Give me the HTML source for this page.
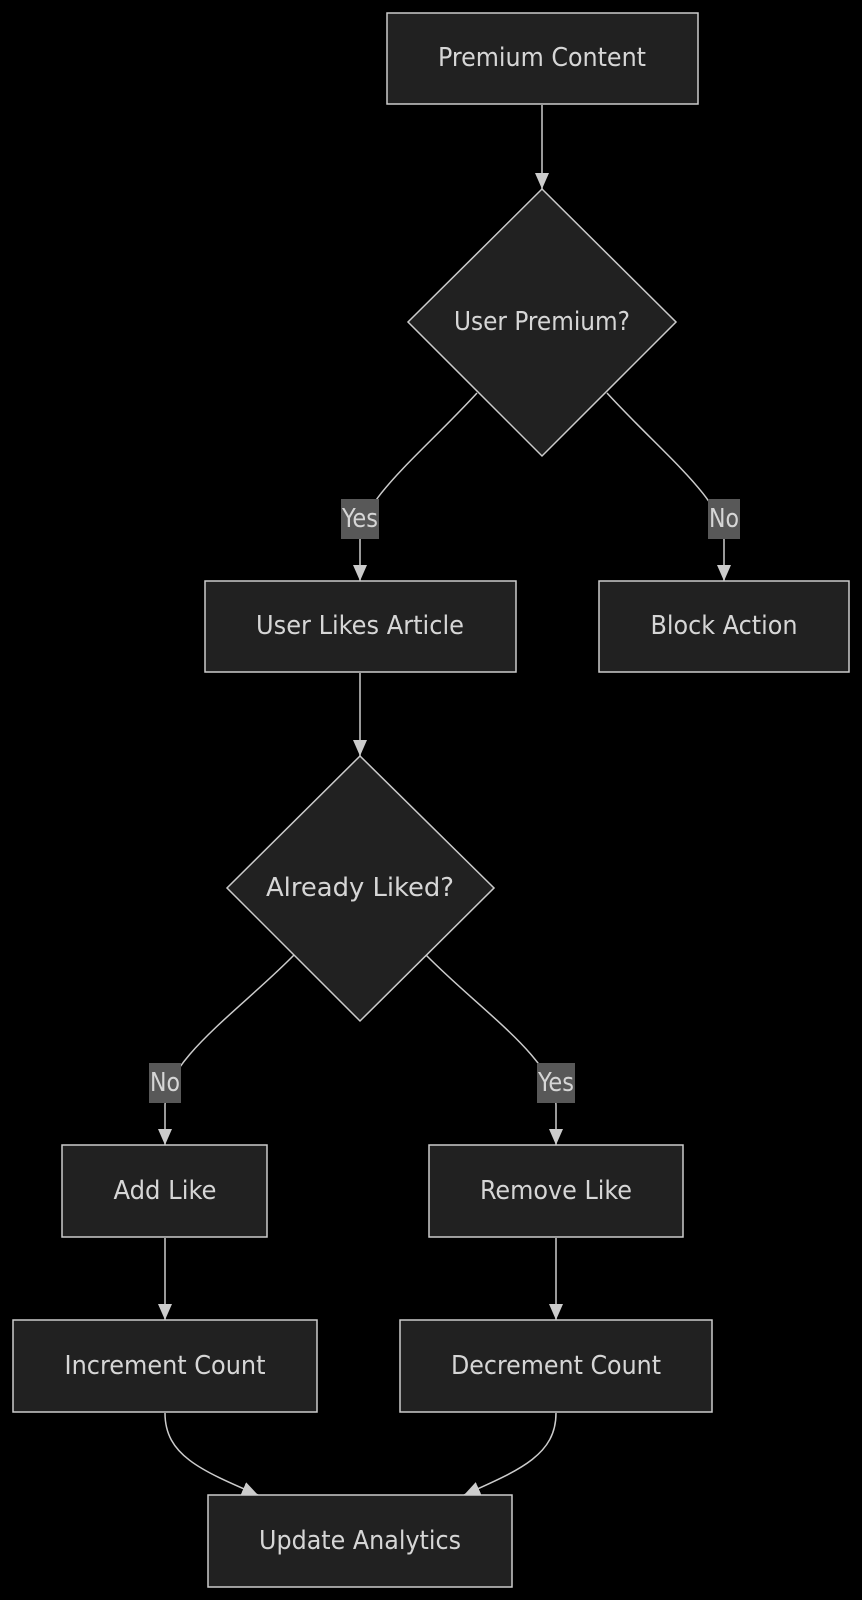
<!DOCTYPE html>
<html><head><meta charset="utf-8"><style>
html,body{margin:0;padding:0;background:#000;width:862px;height:1600px;overflow:hidden}
svg{display:block}
text{font-family:"DejaVu Sans Condensed","DejaVu Sans","Liberation Sans",sans-serif;fill:#d6d6d6;font-size:26px}
</style></head><body>
<svg width="862" height="1600" viewBox="0 0 862 1600">
<defs>
<marker id="b" viewBox="0 0 16 14" refX="16" refY="7" markerWidth="16" markerHeight="14" markerUnits="userSpaceOnUse" orient="auto"><path d="M0,0L16,7L0,14z" fill="#ccc"/></marker></defs>
<g fill="none" stroke="#ccc" stroke-width="1.5">
<path d="M542,105 L542,189" marker-end="url(#b)"/>
<path d="M477,393 C420,455 360,500 360,540 L360,581" marker-end="url(#b)"/>
<path d="M607,393 C664,455 724,500 724,540 L724,581" marker-end="url(#b)"/>
<path d="M360,673 L360,756" marker-end="url(#b)"/>
<path d="M294,955 C240,1010 165,1060 165,1105 L165,1145" marker-end="url(#b)"/>
<path d="M426,955 C480,1010 556,1060 556,1105 L556,1145" marker-end="url(#b)"/>
<path d="M165,1238 L165,1320" marker-end="url(#b)"/>
<path d="M556,1238 L556,1320" marker-end="url(#b)"/>
<path d="M165,1413 C165,1455 200,1470 258,1495" marker-end="url(#b)"/>
<path d="M556,1413 C556,1455 520,1470 464,1495" marker-end="url(#b)"/>
</g>
<g fill="#212121" stroke="#ccc" stroke-width="1.5">
<rect x="387" y="13" width="311" height="91"/>
<path d="M542,189 L676,322 L542,456 L408,322 Z"/>
<rect x="205" y="581" width="311" height="91"/>
<rect x="599" y="581" width="250" height="91"/>
<path d="M360,756 L494,888 L360,1021 L227,888 Z"/>
<rect x="62" y="1145" width="205" height="92"/>
<rect x="429" y="1145" width="254" height="92"/>
<rect x="13" y="1320" width="304" height="92"/>
<rect x="400" y="1320" width="312" height="92"/>
<rect x="208" y="1495" width="304" height="92"/>
</g>
<g fill="#585858">
<rect x="341" y="499" width="38" height="40"/>
<rect x="708" y="499" width="32" height="40"/>
<rect x="149" y="1063" width="32" height="40"/>
<rect x="537" y="1063" width="38" height="40"/>
</g>
<g text-anchor="middle" dominant-baseline="central">
<text x="542" y="58" textLength="208" lengthAdjust="spacingAndGlyphs">Premium Content</text>
<text x="542" y="322" textLength="176" lengthAdjust="spacingAndGlyphs">User Premium?</text>
<text x="360" y="519" textLength="36" lengthAdjust="spacingAndGlyphs">Yes</text>
<text x="724" y="519" textLength="30" lengthAdjust="spacingAndGlyphs">No</text>
<text x="360" y="626" textLength="208" lengthAdjust="spacingAndGlyphs">User Likes Article</text>
<text x="724" y="626" textLength="147" lengthAdjust="spacingAndGlyphs">Block Action</text>
<text x="360" y="888" textLength="188" lengthAdjust="spacingAndGlyphs">Already Liked?</text>
<text x="165" y="1083" textLength="30" lengthAdjust="spacingAndGlyphs">No</text>
<text x="556" y="1083" textLength="36" lengthAdjust="spacingAndGlyphs">Yes</text>
<text x="165" y="1191" textLength="103" lengthAdjust="spacingAndGlyphs">Add Like</text>
<text x="556" y="1191" textLength="152" lengthAdjust="spacingAndGlyphs">Remove Like</text>
<text x="165" y="1366" textLength="201" lengthAdjust="spacingAndGlyphs">Increment Count</text>
<text x="556" y="1366" textLength="210" lengthAdjust="spacingAndGlyphs">Decrement Count</text>
<text x="360" y="1541" textLength="202" lengthAdjust="spacingAndGlyphs">Update Analytics</text>
</g>
</svg>
</body></html>
